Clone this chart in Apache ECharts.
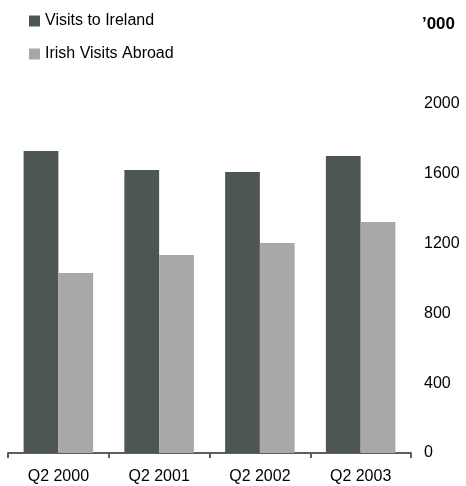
<!DOCTYPE html>
<html>
<head>
<meta charset="utf-8">
<script src="https://cdn.jsdelivr.net/npm/echarts@6/dist/echarts.min.js"></script>
<style>html,body{margin:0;padding:0;background:#fff;}#c{width:466px;height:486px;}</style>
</head>
<body>
<div id="c"></div>
<script>
var categories = ['Q2 2000', 'Q2 2001', 'Q2 2002', 'Q2 2003'];
var visitsToIreland = [1730, 1622, 1610, 1702];
var irishVisitsAbroad = [1032, 1135, 1203, 1324];
var yTicks = [0, 400, 800, 1200, 1600, 2000];

var FONT = '"Liberation Sans", Arial, Helvetica, sans-serif';
var chart = echarts.init(document.getElementById('c'));
chart.setOption({
  animation: false,
  backgroundColor: '#fff',
  textStyle: { fontFamily: FONT },
  title: {
    text: '\u2019000',
    right: 11,
    top: 16,
    padding: 0,
    textStyle: { fontFamily: FONT, fontSize: 17, fontWeight: 'bold', color: '#000' }
  },
  legend: {
    orient: 'vertical',
    left: 29,
    top: 13,
    padding: 0,
    icon: 'rect',
    itemWidth: 11,
    itemHeight: 11,
    itemGap: 17,
    textStyle: { fontFamily: FONT, fontSize: 16, color: '#000' },
    data: ['Visits to Ireland', 'Irish Visits Abroad']
  },
  grid: { left: 8, right: 55, top: 104, bottom: 33, containLabel: false },
  xAxis: {
    type: 'category',
    data: categories,
    axisLine: { show: true, lineStyle: { color: '#5a605f', width: 2 } },
    axisTick: { show: true, length: 5, lineStyle: { color: '#5a605f', width: 2 } },
    axisLabel: { color: '#000', fontSize: 16, fontFamily: FONT, margin: 16 },
    splitLine: { show: false }
  },
  yAxis: {
    type: 'value',
    position: 'right',
    min: yTicks[0],
    max: yTicks[yTicks.length - 1],
    interval: 400,
    axisLine: { show: false },
    axisTick: { show: false },
    splitLine: { show: false },
    axisLabel: {
      color: '#000', fontSize: 16, fontFamily: FONT, margin: 13,
      formatter: function (v) { return String(v); }
    }
  },
  series: [
    {
      name: 'Visits to Ireland',
      type: 'bar',
      data: visitsToIreland,
      barGap: '0%',
      barCategoryGap: '31%',
      itemStyle: { color: '#4e5655' }
    },
    {
      name: 'Irish Visits Abroad',
      type: 'bar',
      data: irishVisitsAbroad,
      itemStyle: { color: '#a8a8a9' }
    }
  ]
});
</script>
</body>
</html>
